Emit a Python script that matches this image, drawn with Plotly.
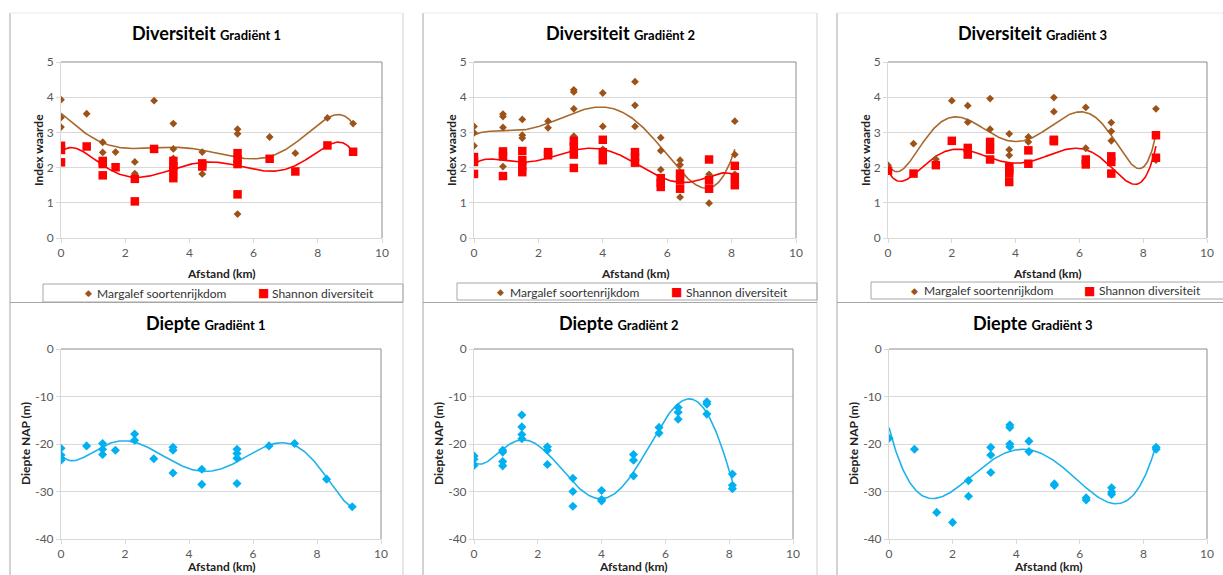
import numpy as np
import plotly.graph_objects as go

W, H = 1223, 575

# ---------------- data ----------------
# Gradiënt 1
g1_x = [0, 0, 0, 0.8, 1.3, 1.3, 1.7, 2.3, 2.3, 2.9, 3.5, 3.5, 3.5, 4.4, 4.4,
        5.5, 5.5, 5.5, 6.5, 7.3, 8.3, 9.1]
g1_margalef = [3.93, 3.42, 3.15, 3.53, 2.72, 2.43, 2.44, 2.16, 1.83, 3.90, 3.25, 2.53, 2.26,
               2.44, 1.82, 3.09, 2.96, 0.68, 2.87, 2.41, 3.41, 3.25]
g1_shannon_x = [0, 0, 0, 0.8, 1.3, 1.3, 1.3, 1.7, 2.3, 2.3, 2.9, 3.5, 3.5, 3.5, 3.5,
                4.4, 4.4, 5.5, 5.5, 5.5, 5.5, 6.5, 7.3, 8.3, 9.1]
g1_shannon = [2.62, 2.50, 2.15, 2.60, 2.19, 2.10, 1.78, 2.01, 1.68, 1.04, 2.53, 2.19, 2.03, 1.92, 1.70,
              2.12, 2.03, 2.41, 2.24, 2.10, 1.24, 2.25, 1.89, 2.63, 2.45]
g1_depth_x = [0, 0, 0, 0, 0.8, 1.3, 1.3, 1.3, 1.7, 2.3, 2.3, 2.9, 3.5, 3.5, 3.5,
              4.4, 4.4, 5.5, 5.5, 5.5, 5.5, 6.5, 7.3, 8.3, 9.1]
g1_depth = [-20.9, -22.3, -23.0, -23.4, -20.4, -19.9, -21.1, -22.2, -21.3, -17.9, -19.2, -23.1,
            -20.7, -21.3, -26.1, -25.3, -28.5, -21.1, -22.0, -23.0, -28.3, -20.4, -19.9, -27.4, -33.2]

# Gradiënt 2
g2_x = [0, 0, 0, 0.9, 0.9, 0.9, 0.9, 1.5, 1.5, 1.5, 2.3, 2.3, 3.1, 3.1, 3.1, 3.1,
        4.0, 4.0, 4.0, 5.0, 5.0, 5.0, 5.8, 5.8, 5.8, 6.4, 6.4, 6.4, 7.3, 7.3, 7.3, 8.1, 8.1, 8.1]
g2_margalef = [3.17, 2.99, 2.62, 3.52, 3.45, 3.14, 2.03, 3.37, 2.92, 2.84, 3.32, 3.13,
               4.21, 4.15, 3.67, 2.89, 4.12, 3.17, 2.52, 4.44, 3.77, 3.17, 2.85, 2.48, 1.94,
               2.21, 2.08, 1.16, 1.81, 1.73, 0.99, 3.32, 2.37, 1.81]
g2_shannon_x = [0, 0, 0, 0.9, 0.9, 0.9, 1.5, 1.5, 1.5, 1.5, 2.3, 2.3, 3.1, 3.1, 3.1, 3.1,
                4.0, 4.0, 4.0, 5.0, 5.0, 5.0, 5.8, 5.8, 5.8, 6.4, 6.4, 6.4, 7.3, 7.3, 7.3, 8.1, 8.1, 8.1]
g2_shannon = [2.30, 2.16, 1.82, 2.46, 2.32, 1.76, 2.47, 2.21, 2.05, 1.87, 2.44, 2.35,
              2.76, 2.59, 2.37, 1.99, 2.79, 2.44, 2.21, 2.44, 2.30, 2.14, 1.70, 1.57, 1.45,
              1.83, 1.64, 1.40, 2.23, 1.64, 1.40, 2.05, 1.73, 1.50]
g2_depth_x = [0, 0, 0, 0.9, 0.9, 0.9, 0.9, 1.5, 1.5, 1.5, 1.5, 2.3, 2.3, 2.3, 3.1, 3.1, 3.1,
              4.0, 4.0, 4.0, 5.0, 5.0, 5.0, 5.8, 5.8, 6.4, 6.4, 6.4, 7.3, 7.3, 7.3, 8.1, 8.1, 8.1]
g2_depth = [-22.5, -23.2, -24.5, -21.3, -21.7, -23.7, -24.6, -13.9, -16.4, -18.0, -18.9,
            -20.6, -21.3, -24.3, -27.2, -30.0, -33.1, -29.8, -31.7, -32.0, -22.2, -23.4, -26.7,
            -16.5, -17.7, -12.3, -13.3, -14.8, -11.1, -11.6, -13.7, -26.3, -28.7, -29.4]

# Gradiënt 3
g3_x = [0, 0.8, 1.5, 2.0, 2.5, 2.5, 3.2, 3.2, 3.2, 3.8, 3.8, 3.8, 3.8, 4.4, 4.4, 5.2, 5.2,
        6.2, 6.2, 7.0, 7.0, 7.0, 8.4, 8.4]
g3_margalef = [2.07, 2.68, 2.24, 3.90, 3.76, 3.29, 3.96, 3.09, 2.50, 2.96, 2.51, 2.35, 1.95,
               2.87, 2.73, 3.99, 3.59, 3.71, 2.55, 3.28, 3.03, 2.76, 3.67, 2.21]
g3_shannon_x = [0, 0.8, 1.5, 2.0, 2.5, 2.5, 3.2, 3.2, 3.2, 3.8, 3.8, 3.8, 3.8, 4.4, 4.4, 5.2, 5.2,
                6.2, 6.2, 7.0, 7.0, 7.0, 8.4, 8.4]
g3_shannon = [1.91, 1.83, 2.07, 2.76, 2.56, 2.37, 2.73, 2.51, 2.23, 2.02, 1.93, 1.83, 1.59,
              2.49, 2.11, 2.79, 2.75, 2.23, 2.09, 2.32, 2.16, 1.83, 2.92, 2.28]
g3_depth_x = [0, 0.8, 1.5, 2.0, 2.5, 2.5, 3.2, 3.2, 3.2, 3.8, 3.8, 3.8, 3.8, 4.4, 4.4,
              5.2, 5.2, 6.2, 6.2, 7.0, 7.0, 7.0, 8.4, 8.4]
g3_depth = [-18.8, -21.1, -34.4, -36.5, -27.7, -31.0, -20.7, -22.3, -26.0, -16.0, -16.5, -20.0,
            -20.6, -19.4, -21.6, -28.4, -28.7, -31.3, -31.8, -29.2, -30.1, -30.6, -20.7, -21.1]

gradient_labels = ["Gradiënt 1", "Gradiënt 2", "Gradiënt 3"]
depth_tickvals = [-40, -30, -20, -10, 0]
depth_ticktext = ["-40", "-30", "-20", "-10", "0"]

# polynomial order of each trendline
div_orders = [6, 6, 6]
depth_orders = [6, 6, 4]

# ---------------- styling ----------------
FONT = "Lato, 'Open Sans', sans-serif"
BROWN_M = "#9C5218"
BROWN_L = "#A8692E"
RED = "#FF0000"
BLUE_M = "#00B0F0"
BLUE_L = "#1DB2EC"
GRID = "#D9D9D9"
BORDER = "#8C8C8C"
TICK = "#595959"


def px(x):
    return x / W


def py(y):
    return 1 - y / H


# plot areas in page pixels: (left, right, top, bottom)
areas = [
    (61, 382, 62, 238), (474, 796, 62, 238), (888, 1207, 62, 238),
    (61, 381, 349, 539), (474, 793, 349, 539), (889, 1207, 349, 539),
]


def trend(x, y, order):
    # polynomial trendline through the data, over the data range
    x = np.asarray(x, float)
    y = np.asarray(y, float)
    c = np.polyfit(x, y, order)
    xs = np.linspace(x.min(), x.max(), 300)
    return xs, np.polyval(c, xs)


fig = go.Figure()
layout = {}

for i, (l, r, t, b) in enumerate(areas):
    n = i + 1
    xa = "xaxis" if n == 1 else f"xaxis{n}"
    ya = "yaxis" if n == 1 else f"yaxis{n}"
    anchor_x = "x" if n == 1 else f"x{n}"
    anchor_y = "y" if n == 1 else f"y{n}"
    layout[xa] = dict(
        domain=[px(l), px(r)], anchor=anchor_y, range=[0, 10], dtick=2, tick0=0,
        showgrid=False, zeroline=False, showline=True, linecolor=GRID, linewidth=1,
        ticks="outside", ticklen=4, tickcolor=GRID, automargin=False,
        tickfont=dict(family=FONT, size=12, color=TICK), fixedrange=True,
    )
    ydef = dict(
        domain=[py(b), py(t)], anchor=anchor_x, showgrid=True, gridcolor=GRID,
        zeroline=False, showline=True, linecolor=GRID, linewidth=1,
        ticks="outside", ticklen=4, tickcolor=GRID, automargin=False,
        tickfont=dict(family=FONT, size=12, color=TICK), fixedrange=True,
    )
    if n <= 3:
        ydef.update(range=[0, 5], dtick=1, tick0=0)
    else:
        ydef.update(range=[-40, 0], tickmode="array", tickvals=depth_tickvals,
                    ticktext=depth_ticktext)
    layout[ya] = ydef

div_sets = [
    (g1_x, g1_margalef, g1_shannon_x, g1_shannon),
    (g2_x, g2_margalef, g2_shannon_x, g2_shannon),
    (g3_x, g3_margalef, g3_shannon_x, g3_shannon),
]
depth_sets = [(g1_depth_x, g1_depth), (g2_depth_x, g2_depth), (g3_depth_x, g3_depth)]

for k, (mx, my, sx, sy) in enumerate(div_sets):
    ax = "x" if k == 0 else f"x{k + 1}"
    ay = "y" if k == 0 else f"y{k + 1}"
    tx, ty = trend(mx, my, div_orders[k])
    fig.add_trace(go.Scatter(x=tx, y=ty, mode="lines", xaxis=ax, yaxis=ay,
                             line=dict(color=BROWN_L, width=1.6), showlegend=False,
                             hoverinfo="skip"))
    tx, ty = trend(sx, sy, div_orders[k])
    fig.add_trace(go.Scatter(x=tx, y=ty, mode="lines", xaxis=ax, yaxis=ay,
                             line=dict(color=RED, width=1.6), showlegend=False,
                             hoverinfo="skip"))
    fig.add_trace(go.Scatter(x=mx, y=my, mode="markers", xaxis=ax, yaxis=ay,
                             name="Margalef soortenrijkdom", showlegend=False,
                             marker=dict(symbol="diamond", size=6, color=BROWN_M)))
    fig.add_trace(go.Scatter(x=sx, y=sy, mode="markers", xaxis=ax, yaxis=ay,
                             name="Shannon diversiteit", showlegend=False,
                             marker=dict(symbol="square", size=8.5, color=RED)))

for k, (dx, dy) in enumerate(depth_sets):
    ax = f"x{k + 4}"
    ay = f"y{k + 4}"
    tx, ty = trend(dx, dy, depth_orders[k])
    fig.add_trace(go.Scatter(x=tx, y=ty, mode="lines", xaxis=ax, yaxis=ay,
                             line=dict(color=BLUE_L, width=1.6), showlegend=False,
                             hoverinfo="skip"))
    fig.add_trace(go.Scatter(x=dx, y=dy, mode="markers", xaxis=ax, yaxis=ay,
                             name="Diepte", showlegend=False,
                             marker=dict(symbol="diamond", size=7, color=BLUE_M)))

shapes = []
annotations = []


def line(x0, y0, x1, y1, color, width=1):
    shapes.append(dict(type="line", xref="paper", yref="paper",
                       x0=px(x0), y0=py(y0), x1=px(x1), y1=py(y1),
                       line=dict(color=color, width=width), layer="above"))


def rect(x0, y0, x1, y1, color):
    shapes.append(dict(type="rect", xref="paper", yref="paper",
                       x0=px(x0), y0=py(y0), x1=px(x1), y1=py(y1),
                       line=dict(color=color, width=1), layer="above"))


# top and right border of each plot area
for i in range(6):
    n = i + 1
    xr = "x domain" if n == 1 else f"x{n} domain"
    yr = "y domain" if n == 1 else f"y{n} domain"
    shapes.append(dict(type="line", xref=xr, yref=yr, x0=0, x1=1, y0=1, y1=1,
                       line=dict(color=BORDER, width=1), layer="above"))
    shapes.append(dict(type="line", xref=xr, yref=yr, x0=1, x1=1, y0=0, y1=1,
                       line=dict(color=BORDER, width=1), layer="above"))

# chart frames with their legend boxes
frames = [(10, 403, 43, 284, 302), (423, 817, 457, 283, 300), (837, 1240, 871, 282, 299)]
for (fl, fr, lgl, lgt, lgb) in frames:
    line(fl, 13, fl, 575, "#A6A6A6")
    line(fl, 13, min(fr, W), 13, "#EBEBEB")
    if fr <= W:
        line(fr, 13, fr, 575, "#D0D0D0")
    rect(lgl, lgt, min(fr, W + 5), lgb, "#A6A6A6")
    line(fl, 302.5, min(fr, W), 302.5, "#A6A6A6")

# titles
title_pos_top = [206, 620.5, 1032.5]
title_pos_bot = [206, 618.5, 1032.5]
for k in range(3):
    annotations.append(dict(
        x=px(title_pos_top[k]), y=py(33), xref="paper", yref="paper", showarrow=False,
        xanchor="center", yanchor="middle",
        text=f"<b>Diversiteit <span style='font-size:13px'>{gradient_labels[k]}</span></b>",
        font=dict(family=FONT, size=18, color="#000000")))
    annotations.append(dict(
        x=px(title_pos_bot[k]), y=py(323), xref="paper", yref="paper", showarrow=False,
        xanchor="center", yanchor="middle",
        text=f"<b>Diepte <span style='font-size:13px'>{gradient_labels[k]}</span></b>",
        font=dict(family=FONT, size=18, color="#000000")))

# axis titles
for i, (l, r, t, b) in enumerate(areas):
    xt = 273 if i < 3 else 566
    annotations.append(dict(
        x=px((l + r) / 2), y=py(xt), xref="paper", yref="paper", showarrow=False,
        xanchor="center", yanchor="middle", text="<b>Afstand (km)</b>",
        font=dict(family=FONT, size=12, color="#222222")))
    ytxt = "<b>Index waarde</b>" if i < 3 else "<b>Diepte NAP (m)</b>"
    xoff = 23 if i < 3 else 36
    annotations.append(dict(
        x=px(l - xoff), y=py((t + b) / 2), xref="paper", yref="paper", showarrow=False,
        xanchor="center", yanchor="middle", textangle=-90, text=ytxt,
        font=dict(family=FONT, size=12, color="#222222")))

# legend entries
legend_items = [(88, 95, 263, 270, 293), (500, 508, 676, 684, 292), (914, 922, 1089, 1097, 290.5)]
for (dm, tm, sq, ts, yc) in legend_items:
    annotations.append(dict(x=px(dm), y=py(yc), xref="paper", yref="paper", showarrow=False,
                            xanchor="center", yanchor="middle", text="◆",
                            font=dict(family="DejaVu Sans", size=9, color=BROWN_M)))
    annotations.append(dict(x=px(tm), y=py(yc), xref="paper", yref="paper", showarrow=False,
                            xanchor="left", yanchor="middle", text="Margalef soortenrijkdom",
                            font=dict(family=FONT, size=12, color="#333333")))
    annotations.append(dict(x=px(sq), y=py(yc), xref="paper", yref="paper", showarrow=False,
                            xanchor="center", yanchor="middle", text="■",
                            font=dict(family="DejaVu Sans", size=12, color=RED)))
    annotations.append(dict(x=px(ts), y=py(yc), xref="paper", yref="paper", showarrow=False,
                            xanchor="left", yanchor="middle", text="Shannon diversiteit",
                            font=dict(family=FONT, size=12, color="#333333")))

fig.update_layout(
    width=W, height=H, margin=dict(l=0, r=0, t=0, b=0, pad=0, autoexpand=False),
    paper_bgcolor="#FFFFFF", plot_bgcolor="#FFFFFF",
    showlegend=False, shapes=shapes, annotations=annotations,
    font=dict(family=FONT, size=12, color=TICK),
    **layout,
)

fig.write_html("out.html", config={"displayModeBar": False})
